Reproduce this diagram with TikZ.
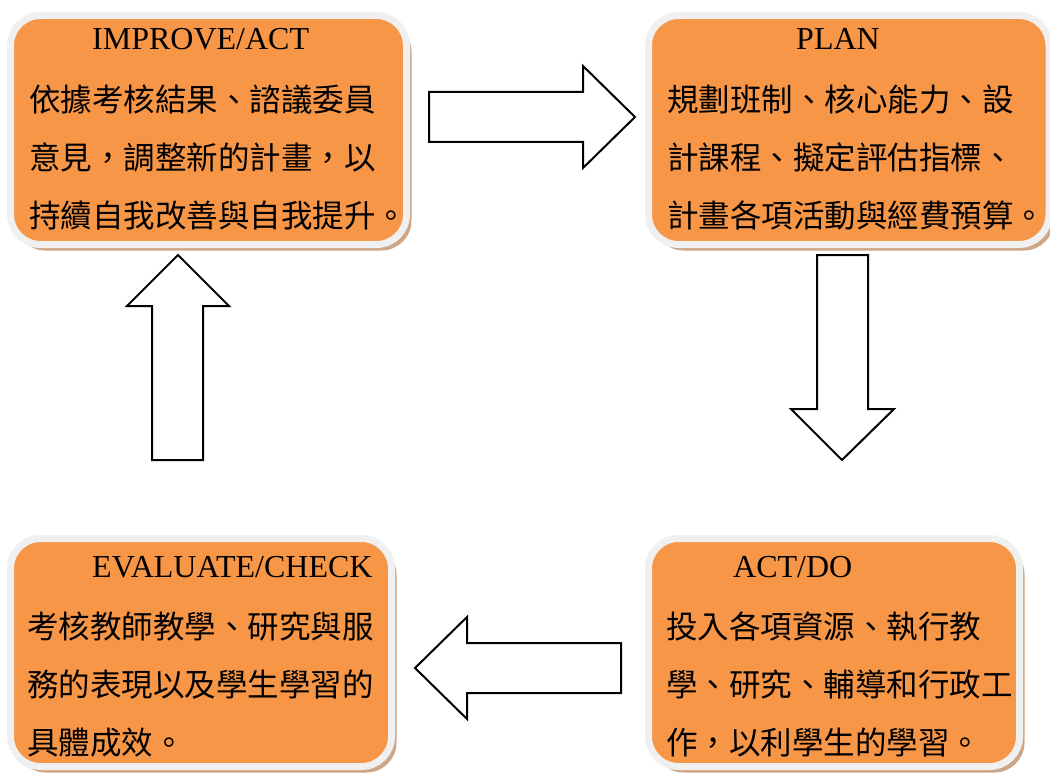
\documentclass[tikz,border=0pt]{standalone}
\usepackage{fontspec}
\setmainfont{Liberation Serif}
\newfontfamily\cjk{Noto Sans CJK TC}
\usetikzlibrary{shadows}
\definecolor{boxorange}{HTML}{F79646}
\definecolor{boxrim}{HTML}{F0F0F0}
\definecolor{boxshadow}{RGB}{205,165,135}

\begin{document}
\begin{tikzpicture}[x=1pt,y=-1pt,
    box/.style={rectangle,rounded corners=30pt,fill=boxorange,draw=boxrim,
      line width=7pt,inner sep=0pt,
      drop shadow={shadow xshift=5pt,shadow yshift=-6pt,fill=boxshadow,opacity=1}},
    boxtitle/.style={anchor=base west,inner sep=0pt,
      font=\fontsize{32pt}{36pt}\selectfont},
    boxtext/.style={anchor=base west,inner sep=0pt,align=left,
      font=\fontsize{31.5pt}{58pt}\selectfont\cjk},
    blockarrow/.style={draw=black,fill=white,line width=2pt,line join=miter}]
  \useasboundingbox (0,0) rectangle (1050,773);

  \node[box,minimum width=396pt,minimum height=229pt] (improve) at (208.5,130) {};
  \node[box,minimum width=400.5pt,minimum height=229pt] (plan) at (848.75,130) {};
  \node[box,minimum width=381pt,minimum height=228pt] (evaluate) at (201,652.5) {};
  \node[box,minimum width=371pt,minimum height=228pt] (actdo) at (834,652.5) {};

  \node[boxtitle] (improvetitle) at (92,50) {IMPROVE/ACT};
  \node[boxtext] (improvetext) at (29,227)
    {依據考核結果、諮議委員\\意見，調整新的計畫，以\\持續自我改善與自我提升。};
  \node[boxtitle] (plantitle) at (796,50) {PLAN};
  \node[boxtext] (plantext) at (667,227)
    {規劃班制、核心能力、設\\計課程、擬定評估指標、\\計畫各項活動與經費預算。};
  \node[boxtitle] (evaluatetitle) at (92,577) {EVALUATE/CHECK};
  \node[boxtext] (evaluatetext) at (27,754)
    {考核教師教學、研究與服\\務的表現以及學生學習的\\具體成效。};
  \node[boxtitle] (actdotitle) at (733,577) {ACT/DO};
  \node[boxtext] (actdotext) at (666,754)
    {投入各項資源、執行教\\學、研究、輔導和行政工\\作，以利學生的學習。};

  \draw[blockarrow] (429,92) -- (583,92) -- (583,66) -- (635,117)
    -- (583,168) -- (583,142) -- (429,142) -- cycle;
  \draw[blockarrow] (817,255) -- (868,255) -- (868,409) -- (894,409)
    -- (842,460) -- (791,409) -- (817,409) -- cycle;
  \draw[blockarrow] (621,643) -- (467,643) -- (467,617) -- (415,668)
    -- (467,719) -- (467,693) -- (621,693) -- cycle;
  \draw[blockarrow] (178,255) -- (229,306) -- (203,306) -- (203,460)
    -- (152,460) -- (152,306) -- (127,306) -- cycle;
\end{tikzpicture}
\end{document}
